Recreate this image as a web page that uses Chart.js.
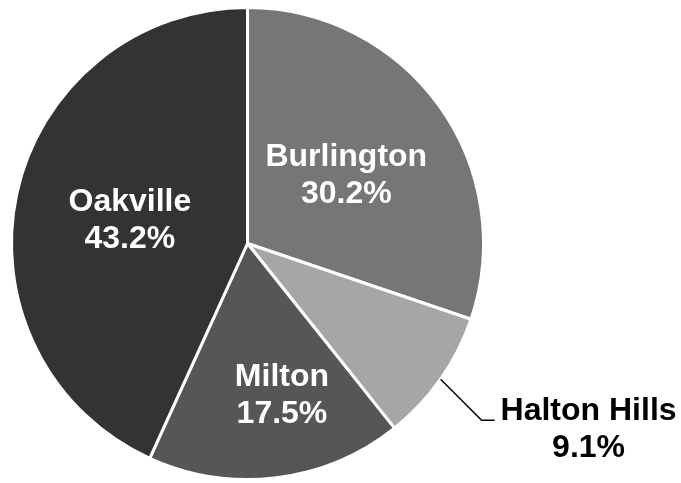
<!DOCTYPE html>
<html>
<head>
<meta charset="utf-8">
<script src="https://cdn.jsdelivr.net/npm/chart.js@4/dist/chart.umd.min.js"></script>
<style>
  html, body { margin: 0; padding: 0; background: #ffffff; }
  #wrap { width: 681px; height: 483px; position: relative; }
</style>
</head>
<body>
<div id="wrap"><canvas id="c" width="681" height="483"></canvas></div>
<script>
const categories = ["Burlington", "Halton Hills", "Milton", "Oakville"];
const shares = [30.2, 9.1, 17.5, 43.2];
const shareLabels = ["30.2%", "9.1%", "17.5%", "43.2%"];
const sliceColors = ["#767676", "#a6a6a6", "#565656", "#333333"];

const labelPlugin = {
  id: "sliceLabels",
  afterDatasetsDraw(chart, args, opts) {
    const ctx = chart.ctx;
    const meta = chart.getDatasetMeta(0);
    const size = opts.fontSize;
    const capH = size * 0.716;
    const lh = opts.lineHeight;
    ctx.save();
    ctx.font = "bold " + size + "px 'Liberation Sans', Arial, sans-serif";
    meta.data.forEach((arc, i) => {
      const p = arc.getProps(["x", "y", "startAngle", "endAngle", "outerRadius"], true);
      const mid = (p.startAngle + p.endAngle) / 2;
      const spec = opts.specs[i];
      const cosA = Math.cos(mid), sinA = Math.sin(mid);
      if (spec.outside) {
        const ex = p.x + cosA * p.outerRadius;
        const ey = p.y + sinA * p.outerRadius;
        const kx = ex + spec.elbow[0], ky = ey + spec.elbow[1];
        ctx.beginPath();
        ctx.strokeStyle = "#000000";
        ctx.lineWidth = 1.5;
        ctx.moveTo(ex, ey);
        ctx.lineTo(kx, ky);
        ctx.lineTo(kx + spec.tail, ky);
        ctx.stroke();
        const cx = kx + spec.tail + spec.textDx;
        const cy = ky + spec.textDy;
        ctx.fillStyle = "#000000";
        ctx.textAlign = "center";
        ctx.textBaseline = "alphabetic";
        ctx.fillText(categories[i], cx, cy - lh / 2 + capH / 2);
        ctx.fillText(shareLabels[i], cx, cy + lh / 2 + capH / 2);
      } else {
        const r = p.outerRadius * spec.frac;
        const cx = p.x + cosA * r + (spec.dx || 0);
        const cy = p.y + sinA * r + (spec.dy || 0);
        ctx.fillStyle = "#ffffff";
        ctx.textAlign = "center";
        ctx.textBaseline = "alphabetic";
        ctx.fillText(categories[i], cx, cy - lh / 2 + capH / 2);
        ctx.fillText(shareLabels[i], cx, cy + lh / 2 + capH / 2);
      }
    });
    ctx.restore();
  }
};

new Chart(document.getElementById("c"), {
  type: "pie",
  data: {
    labels: categories,
    datasets: [{
      data: shares,
      backgroundColor: sliceColors,
      borderColor: "#ffffff",
      borderWidth: 3
    }]
  },
  options: {
    responsive: false,
    animation: false,
    layout: { padding: { left: 10, right: 196, top: 6, bottom: 2 } },
    plugins: {
      legend: { display: false },
      tooltip: { enabled: false },
      sliceLabels: {
        fontSize: 32,
        lineHeight: 37,
        specs: [
          { frac: 0.515, dx: 0, dy: 0 },
          { outside: true, elbow: [41, 41], tail: 13, textDx: 94, textDy: 7 },
          { frac: 0.64, dx: 16, dy: 0 },
          { frac: 0.51, dx: 0, dy: 0 }
        ]
      }
    }
  },
  plugins: [labelPlugin]
});
</script>
</body>
</html>
